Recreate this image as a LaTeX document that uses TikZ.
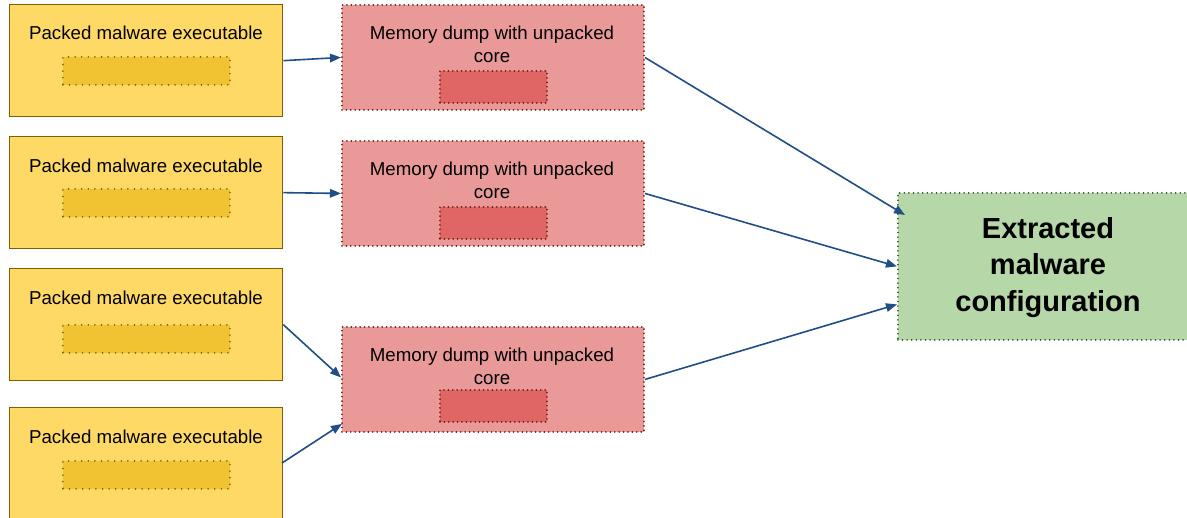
\documentclass[tikz,border=0pt]{standalone}
\usepackage{fontspec}
\setmainfont{Liberation Sans}
\usetikzlibrary{arrows.meta,calc}
\definecolor{ylwfill}{HTML}{FFD966}
\definecolor{ylwdraw}{HTML}{7F6000}
\definecolor{ylwin}{HTML}{F1C232}
\definecolor{redfill}{HTML}{EA9999}
\definecolor{reddraw}{HTML}{6E1A0A}
\definecolor{redin}{HTML}{E06666}
\definecolor{grnfill}{HTML}{B6D7A8}
\definecolor{grndraw}{HTML}{274E13}
\definecolor{arrowc}{HTML}{1F4E89}
\begin{document}
\begin{tikzpicture}[x=1pt,y=-1pt,
  ybox/.style={draw=ylwdraw,fill=ylwfill,line width=1.3pt,minimum width=273pt,minimum height=112pt,inner sep=0pt,anchor=north west},
  yin/.style={draw=ylwdraw,fill=ylwin,line width=1.8pt,line cap=round,dash pattern=on 0pt off 6.6pt,minimum width=167pt,minimum height=28pt,inner sep=0pt,anchor=north west},
  rbox/.style={draw=reddraw,fill=redfill,line width=1.9pt,line cap=round,dash pattern=on 0pt off 4.4pt,minimum width=302pt,minimum height=105pt,inner sep=0pt,anchor=north west},
  rin/.style={draw=reddraw,fill=redin,line width=1.9pt,line cap=round,dash pattern=on 0pt off 4.4pt,minimum width=107pt,minimum height=32pt,inner sep=0pt,anchor=north west},
  gbox/.style={draw=grndraw,fill=grnfill,line width=1.8pt,line cap=round,dash pattern=on 0pt off 4.6pt,minimum width=300pt,minimum height=147pt,inner sep=0pt,anchor=north west},
  smalltxt/.style={font=\fontsize{18.7}{22.5}\selectfont,text=black,align=center,inner sep=0pt},
  bigtxt/.style={font=\fontsize{29}{36.5}\selectfont\bfseries,text=black,align=center,inner sep=0pt},
  conn/.style={draw=arrowc,line width=1.6pt,-{Triangle[length=11pt,width=8.5pt]}}]
\clip (0,0) rectangle (1187,518);
\fill[white] (0,0) rectangle (1187,518);
% yellow boxes
\node[ybox] (y1) at (9,4) {};
\node[smalltxt] (y1t) at (146,33) {Packed malware executable};
\node[yin] (y1i) at (62,56) {};
\node[ybox] (y2) at (9,136) {};
\node[smalltxt] (y2t) at (146,166) {Packed malware executable};
\node[yin] (y2i) at (62,188) {};
\node[ybox] (y3) at (9,268) {};
\node[smalltxt] (y3t) at (146,298) {Packed malware executable};
\node[yin] (y3i) at (62,324) {};
\node[ybox] (y4) at (9,407) {};
\node[smalltxt] (y4t) at (146,437) {Packed malware executable};
\node[yin] (y4i) at (62,460) {};
% red boxes
\node[rbox] (r1) at (341,4) {};
\node[smalltxt] (r1t) at (492,44.5) {Memory dump with unpacked\\core};
\node[rin] (r1i) at (439,70) {};
\node[rbox] (r2) at (341,140) {};
\node[smalltxt] (r2t) at (492,180.5) {Memory dump with unpacked\\core};
\node[rin] (r2i) at (439,206) {};
\node[rbox] (r3) at (341,326) {};
\node[smalltxt] (r3t) at (492,366.5) {Memory dump with unpacked\\core};
\node[rin] (r3i) at (439,389) {};
% green box
\node[gbox] (g) at (897,192) {};
\node[bigtxt] (gt) at (1048,267.5) {Extracted\\malware\\configuration};
% connectors
\coordinate (y4e) at (282,463);
\draw[conn] (y1.east) -- (r1.west);
\draw[conn] (y2.east) -- (r2.west);
\draw[conn] (y3.east) -- ($(r3.west)+(0,-2)$);
\draw[conn] (y4e) -- ($(r3.south west)+(1,-9)$);
\draw[conn] (r1.east) -- ($(g.north west)+(8,23)$);
\draw[conn] (r2.east) -- (g.west);
\draw[conn] (r3.east) -- ($(g.west)+(0,38)$);
\end{tikzpicture}
\end{document}
